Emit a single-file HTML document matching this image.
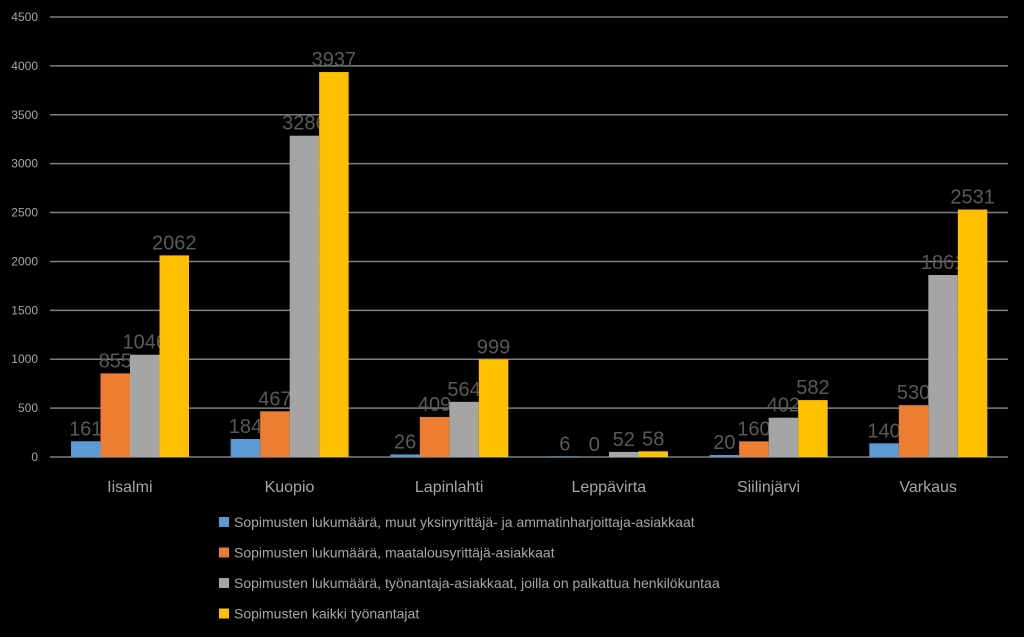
<!DOCTYPE html>
<html><head><meta charset="utf-8"><style>
html,body{margin:0;padding:0;background:#000;}
svg{display:block;font-family:"Liberation Sans",sans-serif;}
</style></head><body>
<svg id="chart" width="1024" height="637" viewBox="0 0 1024 637"></svg>
<script>
const categories = ["Iisalmi","Kuopio","Lapinlahti","Leppävirta","Siilinjärvi","Varkaus"];
const seriesNames = [
 "Sopimusten lukumäärä, muut yksinyrittäjä- ja ammatinharjoittaja-asiakkaat",
 "Sopimusten lukumäärä, maatalousyrittäjä-asiakkaat",
 "Sopimusten lukumäärä, työnantaja-asiakkaat, joilla on palkattua henkilökuntaa",
 "Sopimusten kaikki työnantajat"];
const seriesA = [161,184,26,6,20,140];
const seriesB = [855,467,409,0,160,530];
const seriesC = [1046,3286,564,52,402,1861];
const seriesD = [2062,3937,999,58,582,2531];
const yTicks = [0,500,1000,1500,2000,2500,3000,3500,4000,4500];
const colors = ["#5b9bd5","#ed7d31","#a5a5a5","#ffc000"];
const allSeries = [seriesA,seriesB,seriesC,seriesD];

const svg = document.getElementById('chart');
const NS = "http://www.w3.org/2000/svg";
const x0 = 50, x1 = 1008, yZero = 457, yTop = 17, yMax = 4500;
const groupW = (x1 - x0) / categories.length;
const barW = 29.5, groupPad = 21;
const y = v => yZero - v / yMax * (yZero - yTop);
function mk(tag, attrs){const e=document.createElementNS(NS,tag);for(const k in attrs)e.setAttribute(k,attrs[k]);svg.appendChild(e);return e;}

yTicks.forEach(t=>{
  const g = mk('line',{x1:x0,x2:x1,y1:y(t),y2:y(t),stroke:'#7f7f7f','stroke-width':1.5});
  
  
  const l = mk('text',{x:38,y:y(t)+4,'text-anchor':'end','font-size':12,fill:'#a6a6a6'});
  l.textContent = t;
  
  
});

categories.forEach((c,i)=>{
  const gx = x0 + i*groupW;
  allSeries.forEach((s,j)=>{
    const bx = gx + groupPad + j*barW;
    const r = mk('rect',{x:bx,y:y(s[i]),width:barW,height:yZero - y(s[i]),fill:colors[j]});
    
    
    const t = mk('text',{x:bx+barW/2,y:y(s[i])-6,'text-anchor':'middle','font-size':20,fill:'#595959'});
    t.textContent = s[i];
    
    
  });
  const cl = mk('text',{x:gx+groupW/2,y:492,'text-anchor':'middle','font-size':16,fill:'#a6a6a6'});
  cl.textContent = c;
  
  
});

seriesNames.forEach((n,j)=>{
  const ly = 522 + j*30.5;
  const sq = mk('rect',{x:219,y:ly-5,width:10,height:10,fill:colors[j]});
  
  
  const t = mk('text',{x:234,y:ly+5,'font-size':14,fill:'#a6a6a6'});
  t.textContent = n;
  
  
});
</script>
</body></html>
